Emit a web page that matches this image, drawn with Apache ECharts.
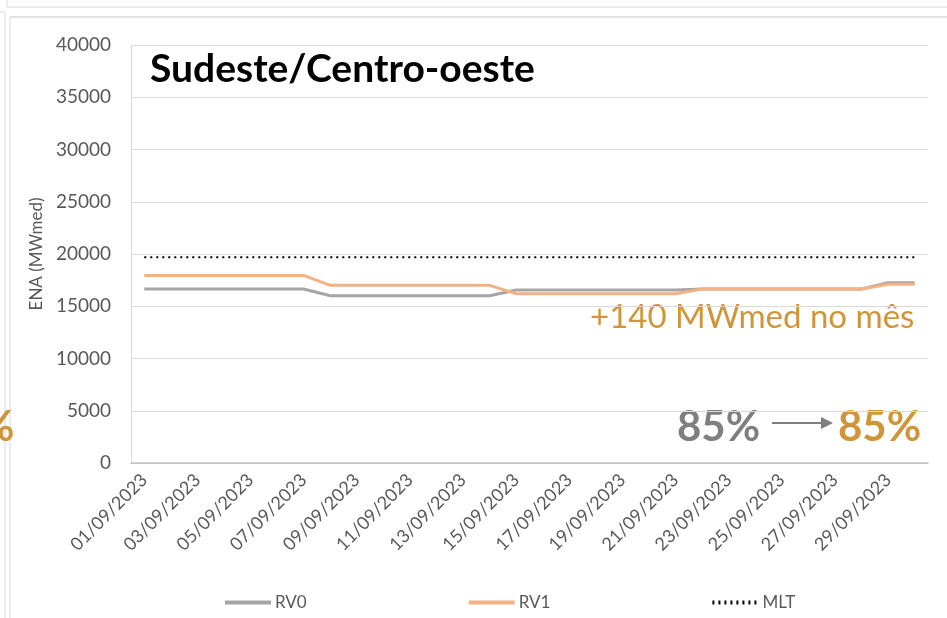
<!DOCTYPE html>
<html>
<head>
<meta charset="utf-8">
<script src="https://cdn.jsdelivr.net/npm/echarts@6/dist/echarts.min.js"></script>
<style>
  html, body { margin: 0; padding: 0; background: #fff; }
  #chart { width: 947px; height: 618px; }
</style>
</head>
<body>
<div id="chart"></div>
<script>
// dias de setembro
var dias = [];
for (var d = 1; d <= 30; d++) {
  dias.push((d < 10 ? '0' + d : '' + d) + '/09/2023');
}
var rv0 = [16650,16650,16650,16650,16650,16650,16650,
           16000,16000,16000,16000,16000,16000,16000,
           16550,16550,16550,16550,16550,16550,16550,
           16650,16650,16650,16650,16650,16650,16650,
           17250,17250];
var rv1 = [17950,17950,17950,17950,17950,17950,17950,
           17000,17000,17000,17000,17000,17000,17000,
           16200,16200,16200,16200,16200,16200,16200,
           16650,16650,16650,16650,16650,16650,16650,
           17100,17100];
var mlt = [19700,19700,19700,19700,19700,19700,19700,19700,19700,19700,
           19700,19700,19700,19700,19700,19700,19700,19700,19700,19700,
           19700,19700,19700,19700,19700,19700,19700,19700,19700,19700];
var yTicks = [0, 5000, 10000, 15000, 20000, 25000, 30000, 35000, 40000];

var gold = '#CF9538';
var chart = echarts.init(document.getElementById('chart'));

chart.setOption({
  animation: false,
  textStyle: { fontFamily: 'Lato' },
  grid: { left: 131, right: 19, top: 45, bottom: 155, containLabel: false },
  legend: {
    bottom: 7, left: 223, padding: 0,
    itemWidth: 46, itemHeight: 10, itemGap: 160,
    itemStyle: { opacity: 0 },
    lineStyle: { width: 4 },
    textStyle: { color: '#595959', fontSize: 17, fontFamily: 'Lato', padding: [0, 0, 0, -1] },
    data: ['RV0', 'RV1', 'MLT']
  },
  xAxis: {
    type: 'category',
    data: dias,
    boundaryGap: true,
    axisLine: { lineStyle: { color: '#BFBFBF', width: 1.5 } },
    axisTick: { show: false },
    axisLabel: { interval: 1, rotate: 45, color: '#595959', fontSize: 18, margin: 14 }
  },
  yAxis: {
    type: 'value',
    min: yTicks[0], max: yTicks[yTicks.length - 1], interval: 5000,
    name: 'ENA (MWmed)',
    nameLocation: 'middle', nameGap: 86, nameRotate: 90,
    nameTextStyle: { color: '#595959', fontSize: 17 },
    axisLine: { show: true, lineStyle: { color: '#D9D9D9' } },
    axisTick: { show: false },
    axisLabel: { color: '#595959', fontSize: 19, margin: 20,
      formatter: function (v) { return '' + v; } },
    splitLine: { lineStyle: { color: '#D9D9D9', width: 1.2 } }
  },
  series: [
    { name: 'RV0', type: 'line', data: rv0, symbol: 'none',
      lineStyle: { color: '#A5A5A5', width: 3 }, itemStyle: { color: '#A5A5A5' } },
    { name: 'RV1', type: 'line', data: rv1, symbol: 'none',
      lineStyle: { color: '#F4B183', width: 3 }, itemStyle: { color: '#F4B183' } },
    { name: 'MLT', type: 'line', data: mlt, symbol: 'none',
      lineStyle: { color: '#000', width: 2, type: [2, 4] }, itemStyle: { color: '#000' } }
  ],
  graphic: [
    // bordas do slide recortado
    { type: 'line', shape: { x1: 7, y1: 0, x2: 7, y2: 7 }, style: { stroke: '#D9D9D9', lineWidth: 1 } },
    { type: 'line', shape: { x1: 7, y1: 7, x2: 947, y2: 7 }, style: { stroke: '#D9D9D9', lineWidth: 1 } },
    { type: 'line', shape: { x1: 0, y1: 12, x2: 5, y2: 12 }, style: { stroke: '#D9D9D9', lineWidth: 1 } },
    { type: 'line', shape: { x1: 5, y1: 12, x2: 5, y2: 618 }, style: { stroke: '#D9D9D9', lineWidth: 1 } },
    { type: 'line', shape: { x1: 10, y1: 17, x2: 947, y2: 17 }, style: { stroke: '#D9D9D9', lineWidth: 1.5 } },
    { type: 'line', shape: { x1: 10, y1: 17, x2: 10, y2: 618 }, style: { stroke: '#D9D9D9', lineWidth: 1 } },
    { type: 'text', left: 150, top: 50,
      style: { text: 'Sudeste/Centro-oeste', fill: '#000', font: 'bold 39px Lato' } },
    { type: 'text', left: 590, top: 301,
      style: { text: '+140 MWmed no mês', fill: gold, font: '33px Lato' } },
    { type: 'text', left: 677, top: 406,
      style: { text: '85%', fill: '#7F7F7F', font: 'bold 42px Lato' } },
    { type: 'line', shape: { x1: 772, y1: 423, x2: 822, y2: 423 }, style: { stroke: '#7F7F7F', lineWidth: 2 } },
    { type: 'polygon', shape: { points: [[821, 417], [833, 423], [821, 429]] }, style: { fill: '#7F7F7F' } },
    { type: 'text', left: 838, top: 406,
      style: { text: '85%', fill: gold, font: 'bold 42px Lato' } },
    { type: 'text', left: -20, top: 406,
      style: { text: '%', fill: gold, font: 'bold 42px Lato' } }
  ]
});
</script>
</body>
</html>
